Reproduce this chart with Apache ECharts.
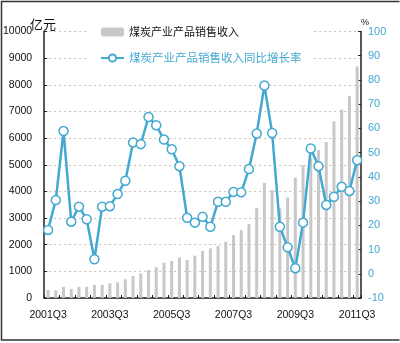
<!DOCTYPE html>
<html>
<head>
<meta charset="utf-8">
<script src="https://cdn.jsdelivr.net/npm/echarts@6/dist/echarts.min.js"></script>
<style>
  html, body { margin: 0; padding: 0; background: #fff; }
  #chart { width: 400px; height: 343px; }
</style>
</head>
<body>
<div id="chart"></div>
<script>
// Quarterly categories, 2001Q3 .. 2011Q3
const quarters = [
  '2001Q3','2001Q4',
  '2002Q1','2002Q2','2002Q3','2002Q4',
  '2003Q1','2003Q2','2003Q3','2003Q4',
  '2004Q1','2004Q2','2004Q3','2004Q4',
  '2005Q1','2005Q2','2005Q3','2005Q4',
  '2006Q1','2006Q2','2006Q3','2006Q4',
  '2007Q1','2007Q2','2007Q3','2007Q4',
  '2008Q1','2008Q2','2008Q3','2008Q4',
  '2009Q1','2009Q2','2009Q3','2009Q4',
  '2010Q1','2010Q2','2010Q3','2010Q4',
  '2011Q1','2011Q2','2011Q3'
];

// Sales revenue of coal industry products (100 million yuan)
const revenue = [
  300, 290, 420, 340, 420, 420, 490, 490, 550, 590,
  700, 820, 920, 1050, 1150, 1320, 1390, 1520, 1420, 1590,
  1770, 1860, 1950, 2110, 2360, 2550, 2770, 3380, 4320, 4050,
  3360, 3770, 4520, 4980, 5250, 5550, 5850, 6630, 7070, 7580,
  8690
];

// Year-on-year growth of the sales revenue (%)
const growth = [
  18.1, 30.4, 58.9, 21.5, 27.7, 22.5, 6.0, 27.7, 27.9, 32.9,
  38.4, 54.2, 53.5, 64.7, 61.3, 55.4, 51.4, 44.4, 23.1, 21.1,
  23.5, 19.4, 29.7, 29.7, 33.8, 33.6, 43.2, 57.9, 77.7, 58.1,
  19.4, 10.9, 2.3, 21.1, 51.7, 44.4, 28.4, 31.8, 35.9, 34.2,
  46.9
];

const seriesNames = ['煤炭产业产品销售收入', '煤炭产业产品销售收入同比增长率'];
const leftUnit = '亿元';
const rightUnit = '%';

const TEAL = '#44a9d0';
const NUM_FONT = '"Liberation Sans Narrow", "Liberation Sans", sans-serif';
const CJK_FONT = '"Noto Sans CJK SC", sans-serif';

const chart = echarts.init(document.getElementById('chart'), null, { renderer: 'canvas' });

chart.setOption({
  animation: false,
  backgroundColor: '#fff',
  grid: { left: 41, right: 39, top: 31.5, bottom: 45, containLabel: false },
  legend: {
    orient: 'vertical',
    left: 88,
    top: 20,
    padding: [5, 12, 6, 12],
    backgroundColor: '#fff',
    itemWidth: 23,
    itemHeight: 9,
    itemGap: 12,
    z: 10,
    data: [
      { name: seriesNames[0], textStyle: { color: '#111', fontSize: 11, lineHeight: 14, fontFamily: CJK_FONT } },
      { name: seriesNames[1], textStyle: { color: TEAL, fontSize: 11.5, lineHeight: 14, fontFamily: CJK_FONT } }
    ]
  },
  xAxis: {
    type: 'category',
    data: quarters,
    boundaryGap: true,
    axisLine: { lineStyle: { color: '#222', width: 1.5 } },
    axisTick: { show: true, inside: true, interval: 1, length: 3, lineStyle: { color: '#222' } },
    axisLabel: { interval: 7, color: '#111', fontSize: 10.5, fontFamily: NUM_FONT, margin: 12 },
    splitLine: { show: false }
  },
  yAxis: [
    {
      type: 'value',
      min: 0, max: 10000, interval: 1000,
      axisLine: { show: true, lineStyle: { color: '#222', width: 1.5 } },
      axisTick: { show: true, inside: true, length: 3, lineStyle: { color: '#222' } },
      axisLabel: {
        color: '#111', fontSize: 10.5, fontFamily: NUM_FONT, margin: 12,
        formatter: function (v) { return String(v); }
      },
      splitLine: { show: true, lineStyle: { color: '#d6b9b0', type: [2, 3], width: 1 } }
    },
    {
      type: 'value',
      min: -10, max: 100, interval: 10,
      position: 'right',
      axisLine: { show: true, lineStyle: { color: '#222', width: 1.5 } },
      axisTick: { show: true, inside: true, length: 3, lineStyle: { color: '#222' } },
      axisLabel: { color: TEAL, fontSize: 11, fontFamily: NUM_FONT, margin: 7 },
      splitLine: { show: false }
    }
  ],
  series: [
    {
      name: seriesNames[0],
      type: 'bar',
      yAxisIndex: 0,
      data: revenue,
      barWidth: 3,
      itemStyle: { color: '#c8c8c8' },
      z: 2
    },
    {
      name: seriesNames[1],
      type: 'line',
      yAxisIndex: 1,
      data: growth,
      color: TEAL,
      symbol: 'circle',
      symbolSize: 9,
      showAllSymbol: true,
      lineStyle: { color: TEAL, width: 2.5 },
      itemStyle: { color: '#fff', borderColor: TEAL, borderWidth: 1.5 },
      z: 3
    }
  ],
  graphic: [
    {
      type: 'text', left: 30, top: 18, z: 20,
      style: { text: leftUnit, fill: '#111', font: '13px ' + CJK_FONT }
    },
    {
      type: 'text', left: 361, top: 18, z: 20,
      style: { text: rightUnit, fill: '#111', font: '9px ' + NUM_FONT }
    },
    {
      type: 'polyline', z: 20,
      shape: { points: [[399.5, 1.5], [1.5, 1.5], [1.5, 340], [399.5, 340]] },
      style: { stroke: '#333', lineWidth: 1.5, fill: null }
    }
  ]
});
</script>
</body>
</html>
